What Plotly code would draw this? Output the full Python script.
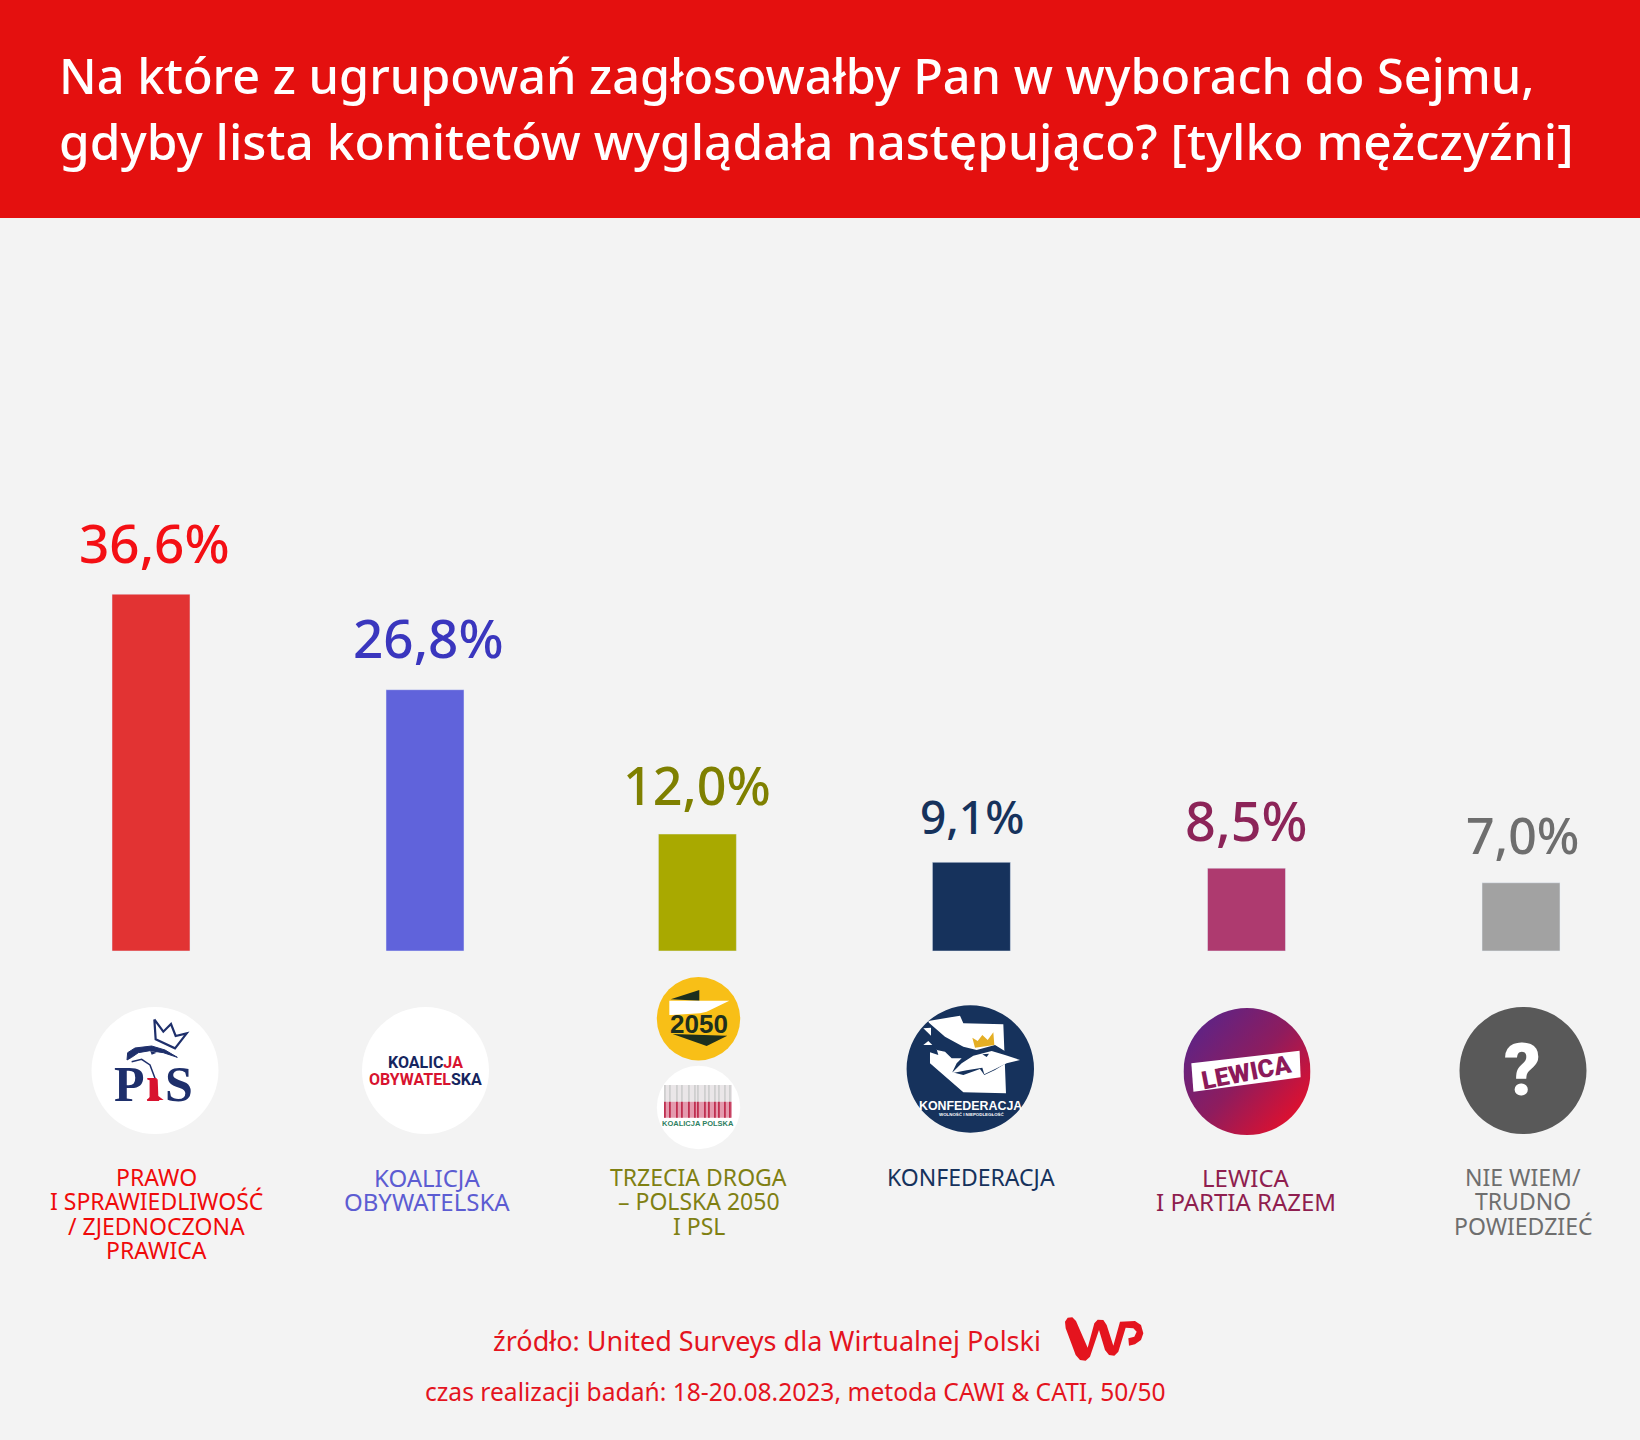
import base64
import plotly.graph_objects as go

# ---------- data ----------
categories = ["PiS", "KO", "TD", "Konf", "Lewica", "NW"]
values = [36.6, 26.8, 12.0, 9.1, 8.5, 7.0]
value_labels = ["36,6%", "26,8%", "12,0%", "9,1%", "8,5%", "7,0%"]
category_lines = [
    ["PRAWO", "I SPRAWIEDLIWOŚĆ", "/ ZJEDNOCZONA", "PRAWICA"],
    ["KOALICJA", "OBYWATELSKA"],
    ["TRZECIA DROGA", "– POLSKA 2050", "I PSL"],
    ["KONFEDERACJA"],
    ["LEWICA", "I PARTIA RAZEM"],
    ["NIE WIEM/", "TRUDNO", "POWIEDZIEĆ"],
]
bar_colors = ["#E23333", "#6063DB", "#A9A900", "#16325C", "#AE3A6F", "#A2A2A2"]
value_colors = ["#F40F14", "#3A36BE", "#7F8000", "#16325C", "#8C2458", "#6E6E6E"]
name_colors = ["#F00A0A", "#5C5CD2", "#7F8012", "#16325C", "#8F1E4F", "#6E6E6E"]
title_lines = [
    "Na które z ugrupowań zagłosowałby Pan w wyborach do Sejmu,",
    "gdyby lista komitetów wyglądała następująco? [tylko mężczyźni]",
]
source_line = "źródło: United Surveys dla Wirtualnej Polski"
method_line = "czas realizacji badań: 18-20.08.2023, metoda CAWI & CATI, 50/50"

# ---------- styling and fine placement (pixels) ----------
bar_nudge = [0, 0, -1.6, -1.6, -0.5, 0]
value_nudge = [0.5, 0, -5, -4.5, -4, -2]
value_lift = [13, 14, 12, 13, 9, 12]
value_sizes = [53, 53, 52, 46, 54, 50]
name_nudge = [3, 0, -2.5, -4.5, -3.5, 0]
name_sizes = [23, 24, 23, 23, 24, 23]

# ---------- canvas ----------
W, H = 1640, 1440
FONT = "Noto Sans"
RED = "#E4100F"
NAVY = "#1E2F6B"
DARK = "#16325C"
px, py = (lambda v: v / W), (lambda v: 1 - v / H)

shapes, notes = [], []


def rect(x0, y0, x1, y1, color, layer="above"):
    shapes.append(dict(type="rect", xref="paper", yref="paper", x0=px(x0), x1=px(x1),
                       y0=py(y0), y1=py(y1), fillcolor=color, line_width=0, layer=layer))


def circle(cx, cy, r, color):
    shapes.append(dict(type="circle", xref="paper", yref="paper", x0=px(cx - r), x1=px(cx + r),
                       y0=py(cy - r), y1=py(cy + r), fillcolor=color, line_width=0, layer="above"))


def poly(points, fill=None, line=None, width=0):
    d = "M " + " L ".join(f"{px(x):.5f} {py(y):.5f}" for x, y in points)
    if fill:
        d += " Z"
    shapes.append(dict(type="path", xref="paper", yref="paper", path=d, layer="above",
                       fillcolor=fill or "rgba(0,0,0,0)",
                       line=dict(color=line or "rgba(0,0,0,0)", width=width)))


def text(x, y, t, size, color, anchor="center", family=FONT, weight=None, angle=0):
    f = dict(size=size, color=color, family=family)
    if weight:
        f["weight"] = weight
    notes.append(dict(xref="paper", yref="paper", x=px(x), y=py(y), text=t, showarrow=False,
                      xanchor=anchor, yanchor="middle", font=f, textangle=angle))


def at(ox, oy):
    return lambda pts: [(ox + x / 3, oy + y / 3) for x, y in pts]


def z2(pts):
    return [(820 + x * 0.523, 960 + y / 3) for x, y in pts]


# ---------- header ----------
rect(0, 0, W, 218, RED, "below")
text(57, 75, title_lines[0], 48.6, "#FFFFFF", "left", weight=500)
text(57, 141, title_lines[1], 49.6, "#FFFFFF", "left", weight=500)

# ---------- bars ----------
BAR_STEP, BAR_X0, BASE, UNIT = 274.0, 151.0, 951.0, 9.75
BAR_W = 78 / BAR_STEP
fig = go.Figure(go.Bar(x=list(range(len(values))), y=values, marker_color=bar_colors,
                       width=BAR_W, offset=[-BAR_W / 2 + n / BAR_STEP for n in bar_nudge],
                       hoverinfo="skip"))

for i, (v, lab, col) in enumerate(zip(values, value_labels, value_colors)):
    notes.append(dict(x=i, y=v, xref="x", yref="y", text=lab, showarrow=False, yanchor="bottom",
                      xshift=3 + value_nudge[i], yshift=value_lift[i],
                      font=dict(size=value_sizes[i], color=col, family=FONT, weight=500)))

for i, (lines, col) in enumerate(zip(category_lines, name_colors)):
    for j, line in enumerate(lines):
        notes.append(dict(x=i, y=0, xref="x", yref="y", text=line, showarrow=False, yanchor="middle",
                          xshift=2 + name_nudge[i], yshift=-(226 + 24.4 * j),
                          font=dict(size=name_sizes[i], color=col, family=FONT)))

# ---------- logos ----------
# PiS
p = at(85, 1000)
circle(155, 1070.5, 63.5, "#FFFFFF")
poly(p([(208, 58), (212, 118), (270, 145), (305, 100), (272, 108), (258, 72), (235, 95), (208, 58)]), None, NAVY, 2.2)
poly(p([(126, 180), (128, 158), (150, 144), (200, 138), (240, 150), (277, 172), (235, 158), (195, 152), (160, 158),
        (140, 172)]), NAVY, NAVY, 1)
poly(p([(140, 185), (170, 178), (195, 195), (212, 240)]), None, NAVY, 1.5)
poly(p([(196, 153), (215, 158), (200, 164)]), NAVY)
poly(p([(200, 238), (218, 238), (220, 288), (236, 300), (185, 300), (198, 288)]), "#D8132F")
text(129, 1084, "P", 50, NAVY, family="Liberation Serif", weight=700)
text(153, 1084, "ı", 50, "#D8132F", family="Liberation Serif", weight=700)
text(179, 1084, "S", 50, NAVY, family="Liberation Serif", weight=700)
# KO
circle(425.5, 1070.5, 63.5, "#FFFFFF")
text(425, 1062, 'KOALIC<span style="color:#D8132F">JA</span>', 16, "#16255E", family="Roboto", weight=700)
text(425, 1079, '<span style="color:#D8132F">OBYWATEL</span>SKA', 16, "#16255E", family="Roboto", weight=700)
# Polska 2050
t = at(650, 970)
circle(698.5, 1018.7, 41.7, "#F8BF17")
poly(t([(62, 88), (148, 60), (148, 92)]), "#1D2F1E")
poly(t([(58, 92), (238, 92), (170, 125), (150, 130), (65, 135), (58, 135)]), "#FFFFFF")
poly(t([(68, 192), (232, 197), (170, 228)]), "#1D2F1E")
text(698.5, 1024, "2050", 26, "#1D2F1E", family="Liberation Sans", weight=700)
# Koalicja Polska
circle(698.5, 1107.5, 41.7, "#FFFFFF")
rect(664, 1085, 732, 1101.7, "#EAE6E8")
rect(664, 1101.7, 732, 1117.7, "#E49AAE")
for s in [0, 5, 12, 17, 24, 30, 33, 40, 44, 50, 54, 60, 65]:
    rect(664 + s, 1085, 664 + s + 1.8, 1101.7, "#CFCFCF")
    rect(664 + s, 1101.7, 664 + s + 1.8, 1117.7, "#BF2F50")
text(698, 1123, "KOALICJA POLSKA", 7.5, "#2F7F5F", family="Liberation Sans", weight=700)
# Konfederacja
k = at(895, 995)
circle(970.3, 1069, 63.7, DARK)
poly(k([(100, 78), (195, 62), (205, 85), (325, 88), (333, 295), (205, 292), (105, 205), (105, 172), (130, 180)]), "#FFFFFF")
poly(k([(100, 82), (150, 125), (205, 155), (245, 165), (300, 150), (333, 170), (340, 200), (300, 225), (268, 240),
        (255, 222), (205, 240), (172, 232), (185, 205), (200, 190), (170, 190), (150, 170), (125, 165), (108, 135)]), DARK)
poly(k([(170, 235), (200, 205), (235, 182), (290, 168), (330, 180), (375, 195), (335, 205), (305, 220), (268, 238),
        (262, 218), (215, 226)]), "#FFFFFF")
poly(k([(262, 178), (282, 176), (275, 186)]), DARK)
poly(k([(232, 128), (248, 138), (262, 120), (278, 135), (295, 112), (298, 150), (240, 158)]), "#E4AE24")
poly(k([(85, 100), (108, 98), (108, 122)]), "#FFFFFF")
poly(k([(85, 150), (112, 150), (100, 138)]), "#FFFFFF")
text(970.5, 1105.5, "KONFEDERACJA", 12.4, "#FFFFFF", family="Liberation Sans", weight=700)
text(971, 1114.5, "WOLNOŚĆ I NIEPODLEGŁOŚĆ", 4.4, "#FFFFFF", family="Liberation Sans", weight=700)
# Lewica: gradient disc
svg = ('<svg xmlns="http://www.w3.org/2000/svg" width="254" height="254" viewBox="0 0 254 254">'
       '<defs><linearGradient id="g" x1="0.1" y1="0.15" x2="0.9" y2="0.85">'
       '<stop offset="0" stop-color="#5F2385"/><stop offset="0.5" stop-color="#8E1C5E"/>'
       '<stop offset="1" stop-color="#E0102E"/></linearGradient></defs>'
       '<circle cx="127" cy="127" r="127" fill="url(#g)"/></svg>')
fig.add_layout_image(dict(source="data:image/svg+xml;base64," + base64.b64encode(svg.encode()).decode(),
                          xref="paper", yref="paper", x=px(1183.5), y=py(1008), sizex=127 / W, sizey=127 / H,
                          xanchor="left", yanchor="top", layer="above"))
poly(z2([(710, 310), (917, 272), (919, 352), (714, 395)]), "#FFFFFF")
text(1246, 1072, "LEWICA", 25, "#8C1A5A", family="Roboto", weight=900, angle=-11)
# Nie wiem
circle(1523, 1070.5, 63.5, "#595959")
text(1522, 1070, "?", 72, "#FFFFFF", family="Roboto", weight=900)

# ---------- footer ----------
text(767, 1340, source_line, 27, "#E4141E")
text(795, 1391, method_line, 24.6, "#E4141E")
wp = at(1055, 1305)
poly(wp([(30, 50), (38, 38), (52, 37), (63, 48), (98, 128), (118, 55), (128, 44), (145, 45), (155, 60), (175, 122),
         (195, 50), (240, 48), (258, 60), (265, 85), (258, 105), (240, 118), (222, 122), (220, 100), (238, 95),
         (245, 80), (235, 70), (212, 68), (190, 140), (178, 152), (162, 150), (150, 135), (132, 75), (105, 155),
         (92, 167), (75, 165), (62, 150), (32, 70)]), "#E4141E")

fig.update_layout(
    width=W, height=H, margin=dict(l=0, r=0, t=0, b=0), showlegend=False,
    paper_bgcolor="#F3F3F3", plot_bgcolor="rgba(0,0,0,0)",
    xaxis=dict(range=[-BAR_X0 / BAR_STEP, (W - BAR_X0) / BAR_STEP], visible=False, fixedrange=True),
    yaxis=dict(range=[(BASE - H) / UNIT, BASE / UNIT], visible=False, fixedrange=True),
    shapes=shapes, annotations=notes,
)
fig.write_html("out.html", config={"displayModeBar": False},
               post_script="document.body.style.margin='0';")
